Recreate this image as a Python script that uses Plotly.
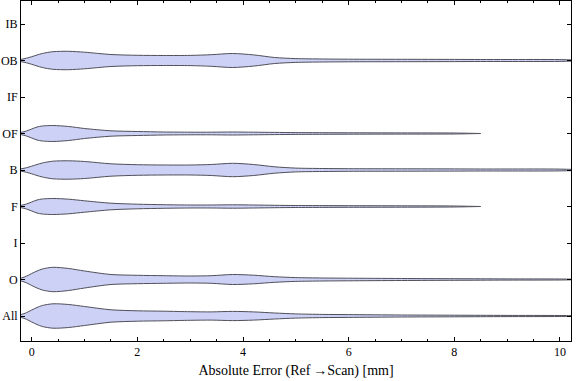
import plotly.graph_objects as go

# Category axis (bottom to top)
categories = ["All", "O", "I", "F", "B", "OF", "IF", "OB", "IB"]

# Absolute error grid [mm] at which the violin densities were read
error_grid = [-0.6, -0.2, -0.1, 0.0, 0.1, 0.2, 0.4, 0.7, 1.0, 1.5, 2.0, 2.5, 3.0,
              3.4, 3.8, 4.2, 4.6, 5.0, 5.5, 6.0, 7.0, 8.0, 8.5, 9.0, 10.0, 10.6]

# Estimated density (half-width, in 1/36.5 of a category step); None = beyond data
dens_all = [0, 1.5, 3.3, 6.0, 8.5, 10.5, 12.2, 11.5, 9.5, 6.2, 5.2, 4.8, 4.3,
            4.1, 4.6, 4.1, 3.0, 2.1, 1.6, 1.4, 1.0, 0.8, 0.7, 0.6, 0.5, 0]
dens_o = [0, 1.5, 3.3, 6.0, 8.5, 10.5, 12.2, 11.0, 8.5, 5.0, 4.2, 3.8, 3.5,
          3.8, 5.0, 4.3, 2.8, 1.9, 1.5, 1.3, 1.0, 0.8, 0.7, 0.6, 0.5, 0]
dens_f = [0, 1.2, 2.5, 4.5, 6.5, 7.5, 8.0, 7.3, 5.7, 3.3, 2.3, 1.8, 1.5,
          1.5, 1.7, 1.5, 1.2, 1.0, 0.9, 0.8, 0.7, 0.5, 0, None, None, None]
dens_b = [0, 1.2, 2.3, 3.8, 5.5, 7.0, 8.8, 9.2, 8.5, 6.2, 5.3, 5.0, 5.0,
          5.5, 6.7, 5.5, 3.2, 1.9, 1.5, 1.3, 1.2, 1.1, 1.0, 1.0, 0.9, 0]
dens_of = [0, 1.2, 2.5, 4.5, 6.5, 7.5, 8.0, 7.0, 5.0, 2.7, 2.0, 1.5, 1.3,
           1.3, 1.5, 1.3, 1.1, 0.9, 0.8, 0.7, 0.6, 0.5, 0, None, None, None]
dens_ob = [0, 1.2, 2.3, 3.8, 5.5, 7.0, 8.8, 9.2, 8.3, 6.0, 5.2, 5.0, 5.1,
           5.8, 7.0, 5.6, 3.0, 1.9, 1.5, 1.3, 1.2, 1.1, 1.0, 1.0, 0.9, 0]

x_ticks = [0, 2, 4, 6, 8, 10]
x_title = "Absolute Error (Ref\u2009\u2192Scan) [mm]"

violins = {"All": dens_all, "O": dens_o, "F": dens_f, "B": dens_b,
           "OF": dens_of, "OB": dens_ob}

SCALE = 1 / 36.5
FILL = "rgb(204,209,245)"
EDGE = "rgb(80,80,90)"

fig = go.Figure()
for name, dens in violins.items():
    pos = categories.index(name)
    pts = [(x, d) for x, d in zip(error_grid, dens) if d is not None]
    xs = [p[0] for p in pts]
    up = [pos + p[1] * SCALE for p in pts]
    lo = [pos - p[1] * SCALE for p in pts]
    fig.add_trace(go.Scatter(
        x=xs + xs[::-1], y=up + lo[::-1], mode="lines", fill="toself",
        fillcolor=FILL, line=dict(color=EDGE, width=1, shape="spline", smoothing=0.8),
        showlegend=False, hoverinfo="skip"))

font = dict(family="Liberation Serif", size=12, color="black")

fig.update_layout(
    width=576, height=381,
    margin=dict(l=21, r=5, t=1, b=40, autoexpand=False),
    plot_bgcolor="white", paper_bgcolor="white",
    font=font,
    xaxis=dict(range=[-0.203, 10.21], tickvals=x_ticks, ticks="inside", ticklen=4,
               tickcolor="black", showline=True, linecolor="black", linewidth=1,
               mirror="allticks", showgrid=False, zeroline=False,
               minor=dict(dtick=0.5, ticks="inside", ticklen=2, tickcolor="black", showgrid=False),
               title=dict(text=x_title, standoff=6), tickfont=font),
    yaxis=dict(range=[-0.685, 8.63], tickvals=list(range(len(categories))),
               ticktext=categories, ticks="inside", ticklen=4, tickcolor="black",
               showline=True, linecolor="black", linewidth=1, mirror="allticks",
               showgrid=False, zeroline=False, tickfont=font),
)

fig.write_html("out.html", config={"displayModeBar": False},
               post_script="document.body.style.margin='0';document.body.style.padding='0';")
